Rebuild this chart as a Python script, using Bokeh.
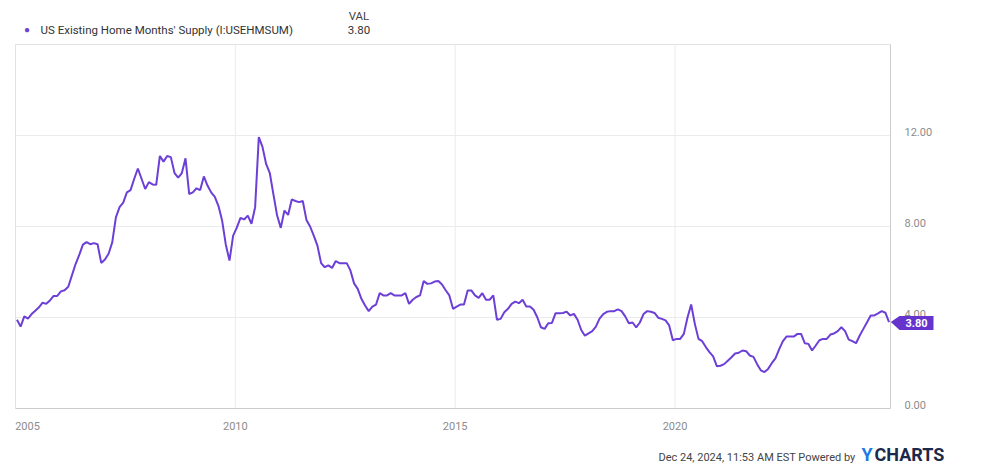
from bokeh.plotting import figure
from bokeh.models import (Label, PolyAnnotation, FixedTicker, Range1d, LinearAxis)
from bokeh.embed import file_html
from bokeh.resources import INLINE

# US existing home months' supply, monthly Jan 2005 - Nov 2024
first_year = 2005
supply_2005_2009 = [
    3.9, 3.6, 4.05, 3.95, 4.15, 4.3, 4.45, 4.65, 4.6, 4.75, 4.95, 4.95,
    5.15, 5.2, 5.35, 5.85, 6.35, 6.75, 7.2, 7.31, 7.22, 7.27, 7.22, 6.4,
    6.55, 6.8, 7.3, 8.4, 8.85, 9.05, 9.5, 9.6, 10.1, 10.55, 10.1, 9.65,
    9.95, 9.85, 9.83, 11.1, 10.85, 11.1, 11.05, 10.35, 10.15, 10.35, 11.0, 9.43,
    9.5, 9.68, 9.6, 10.2, 9.8, 9.5, 9.3, 8.9, 8.25, 7.2, 6.5, 7.6,
]
supply_2010_2014 = [
    7.95, 8.38, 8.31, 8.48, 8.12, 8.85, 11.93, 11.5, 10.75, 10.35, 9.4, 8.48,
    7.94, 8.7, 8.51, 9.19, 9.12, 9.07, 9.12, 8.29, 8.0, 7.6, 7.16, 6.39,
    6.21, 6.29, 6.18, 6.48, 6.39, 6.39, 6.39, 6.07, 5.5, 5.26, 4.82, 4.53,
    4.28, 4.48, 4.57, 5.07, 4.97, 4.97, 5.07, 4.97, 4.97, 4.97, 5.07, 4.6,
    4.78, 4.9, 4.97, 5.6, 5.48, 5.5, 5.58, 5.6, 5.45, 5.2, 4.97, 4.38,
]
supply_2015_2019 = [
    4.48, 4.57, 4.57, 5.19, 5.19, 4.97, 4.86, 5.07, 4.78, 4.78, 4.97, 3.9,
    3.94, 4.23, 4.38, 4.6, 4.7, 4.63, 4.78, 4.48, 4.48, 4.34, 4.01, 3.57,
    3.5, 3.75, 3.76, 4.19, 4.19, 4.2, 4.26, 4.09, 4.16, 3.9, 3.45, 3.2,
    3.3, 3.4, 3.6, 3.95, 4.15, 4.25, 4.28, 4.28, 4.36, 4.28, 4.05, 3.75,
    3.78, 3.57, 3.78, 4.15, 4.28, 4.25, 4.2, 3.99, 3.94, 3.87, 3.65, 3.0,
]
supply_2020_2024 = [
    3.06, 3.06, 3.28, 4.0, 4.57, 3.72, 3.06, 2.96, 2.7, 2.48, 2.29, 1.86,
    1.88, 1.95, 2.1, 2.25, 2.42, 2.45, 2.55, 2.52, 2.33, 2.27, 1.95, 1.68,
    1.6, 1.74, 1.99, 2.2, 2.6, 2.95, 3.16, 3.16, 3.16, 3.28, 3.28, 2.87,
    2.84, 2.55, 2.77, 3.0, 3.06, 3.06, 3.25, 3.3, 3.4, 3.57, 3.4, 3.03,
    2.96, 2.87, 3.21, 3.5, 3.79, 4.09, 4.09, 4.18, 4.28, 4.21, 3.8,
]
x_ticks = [2005, 2010, 2015, 2020]
y_ticks = [0, 4, 8, 12]
series_name = "US Existing Home Months' Supply (I:USEHMSUM)"
last_value = 3.80
timestamp = "Dec 24, 2024, 11:53 AM EST Powered by"

supply = supply_2005_2009 + supply_2010_2014 + supply_2015_2019 + supply_2020_2024
dates = [first_year + i // 12 + (i % 12 + 0.4) / 12 for i in range(len(supply))]

PURPLE = "#6c3fd6"
TAG = "#6633cc"
GRID = "#ebebeb"
FONT = "Roboto"

# Canvas geometry: the plotting box sits inside a full-canvas frame so the
# legend row, value tag and footer can be drawn around it.
W, H = 990, 465
box_left, box_right, box_top, box_bottom = 15, 890, 44, 408
x_lo, x_hi = 2005, 2024.9
y_lo, y_hi = 0, 16
sx = (box_right - box_left) / (x_hi - x_lo)
sy = (box_bottom - box_top) / (y_hi - y_lo)


def xd(px):
    return x_lo + (px - box_left) / sx


def yd(py):
    return y_lo + (box_bottom - py) / sy


p = figure(
    width=W, height=H,
    x_range=Range1d(xd(0), xd(W)), y_range=Range1d(yd(H), yd(0)),
    x_axis_location=None, y_axis_location=None,
    output_backend="svg", toolbar_location=None,
    min_border=0,
)
p.grid.visible = False
p.outline_line_color = None
p.background_fill_color = "white"
p.border_fill_color = "white"

# plot box border and grid lines
p.segment(x0=[x_lo], y0=[y_lo], x1=[x_lo], y1=[y_hi], line_color="#e2e2e2", line_width=1)
p.segment(x0=[x_lo], y0=[y_hi], x1=[x_hi], y1=[y_hi], line_color="#e2e2e2", line_width=1)
vx = x_ticks[1:]
p.segment(x0=vx, y0=[y_lo] * len(vx), x1=vx, y1=[y_hi] * len(vx),
          line_color=GRID, line_width=1)
hy = y_ticks[1:]
p.segment(x0=[x_lo] * len(hy), y0=hy, x1=[x_hi] * len(hy), y1=hy,
          line_color=GRID, line_width=1)

# axes pinned to the edges of the plot box; the first year label is kept
# flush with the box's left edge and value labels sit just above their lines
first_label_at = xd(27)
x_label_ticks = [first_label_at] + x_ticks[1:]
lift = 3.5 / sy
y_label_ticks = [t + lift for t in y_ticks]
xaxis = LinearAxis(ticker=FixedTicker(ticks=x_label_ticks), fixed_location=y_lo,
                   bounds=(x_lo, x_hi),
                   major_label_overrides={first_label_at: str(x_ticks[0])})
yaxis = LinearAxis(ticker=FixedTicker(ticks=y_label_ticks), fixed_location=x_hi,
                   bounds=(y_lo, y_hi),
                   major_label_overrides={lt: f"{t:.2f}" for lt, t in zip(y_label_ticks, y_ticks)})
for ax in (xaxis, yaxis):
    ax.major_tick_line_color = None
    ax.minor_tick_line_color = None
    ax.axis_line_color = "#cccccc"
    ax.major_label_text_font = FONT
    ax.major_label_text_font_size = "11px"
    ax.major_label_text_color = "#8c8c8c"
xaxis.major_label_standoff = 7
yaxis.major_label_standoff = 8
p.add_layout(xaxis, "below")
p.add_layout(yaxis, "right")

p.line(dates, supply, line_color=PURPLE, line_width=2)

# last-value tag on the right axis
p.add_layout(PolyAnnotation(
    xs=[dates[-1] + 0.04, xd(899), xd(933), xd(933), xd(899)],
    ys=[supply[-1], yd(315.5), yd(315.5), yd(329.5), yd(329.5)],
    xs_units="data", ys_units="data",
    fill_color=TAG, fill_alpha=1.0, line_color=None, level="overlay",
))
p.add_layout(Label(
    x=xd(916), y=yd(322.5), text=f"{last_value:.2f}", text_color="white",
    text_font=FONT, text_font_style="bold", text_font_size="11px",
    text_align="center", text_baseline="middle", level="overlay",
))

# legend row above the plot box
p.add_layout(Label(x=xd(26.5), y=yd(29), text="\u25cf", text_color=PURPLE,
                   text_font_size="10px", text_align="center", text_baseline="middle"))
p.add_layout(Label(x=xd(40), y=yd(29), text=series_name, text_color="#333333",
                   text_font=FONT, text_font_size="11.5px", text_baseline="middle"))
p.add_layout(Label(x=xd(358.5), y=yd(15.5), text="VAL", text_color="#444444",
                   text_font=FONT, text_font_size="11.5px",
                   text_align="center", text_baseline="middle"))
p.add_layout(Label(x=xd(358.5), y=yd(29), text=f"{last_value:.2f}", text_color="#333333",
                   text_font=FONT, text_font_size="11.5px",
                   text_align="center", text_baseline="middle"))

# footer credit
p.add_layout(Label(x=xd(855), y=yd(463), text=timestamp, text_color="#444444",
                   text_font=FONT, text_font_size="11px",
                   text_align="right", text_baseline="bottom"))
p.add_layout(Label(x=xd(861), y=yd(464), text="Y", text_color="#1e7be0",
                   text_font=FONT, text_font_style="bold", text_font_size="18px",
                   text_baseline="bottom"))
p.add_layout(Label(x=xd(874), y=yd(464), text="CHARTS", text_color="#1b2a4a",
                   text_font=FONT, text_font_style="bold", text_font_size="18px",
                   text_baseline="bottom"))

open("out.html", "w").write(file_html(p, INLINE))
